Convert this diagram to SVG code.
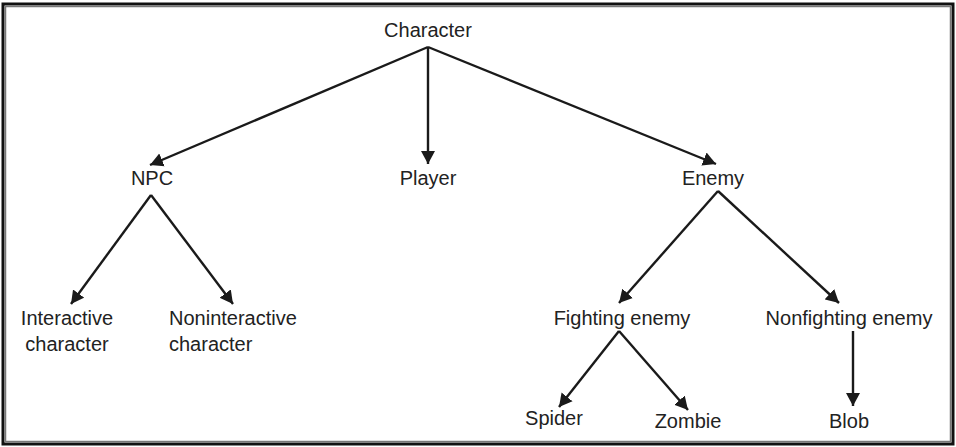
<svg xmlns="http://www.w3.org/2000/svg" width="956" height="447" viewBox="0 0 956 447">
<defs>
<marker id="ah" markerUnits="userSpaceOnUse" markerWidth="15" markerHeight="15" refX="13" refY="7.5" orient="auto">
<path d="M0,0.5 L13,7.5 L0,14.5 z" fill="#1a1a1a"/>
</marker>
<style>
text{font-family:"Liberation Sans",Arial,sans-serif;font-size:20px;fill:#222;text-anchor:middle}
.l{text-anchor:start}
.c line{stroke:#1a1a1a;stroke-width:2.4;marker-end:url(#ah)}
</style>
</defs>
<rect x="0" y="0" width="956" height="447" fill="#fff"/>
<rect x="3" y="4" width="950" height="440" fill="none" stroke="#111" stroke-width="3"/>
<rect x="5.5" y="6.5" width="945" height="435" fill="none" stroke="#777" stroke-width="1.5"/>
<g class="c" id="connectors">
<line x1="428" y1="47" x2="150" y2="165"/>
<line x1="428" y1="47" x2="428" y2="164"/>
<line x1="428" y1="47" x2="716" y2="164"/>
<line x1="151" y1="195" x2="71" y2="304"/>
<line x1="151" y1="195" x2="233" y2="304"/>
<line x1="718" y1="191" x2="619" y2="303"/>
<line x1="718" y1="191" x2="839" y2="303"/>
<line x1="619" y1="331" x2="559" y2="407"/>
<line x1="619" y1="331" x2="688" y2="410"/>
<line x1="853" y1="331" x2="853" y2="406"/>
</g>
<g id="character"><text x="428" y="37">Character</text></g>
<g id="npc"><text x="152" y="185">NPC</text></g>
<g id="player"><text x="428" y="185">Player</text></g>
<g id="enemy"><text x="713" y="185">Enemy</text></g>
<g id="interactive"><text x="67" y="325">Interactive</text><text x="67" y="351">character</text></g>
<g id="noninteractive"><text class="l" x="169" y="325">Noninteractive</text><text class="l" x="169" y="351">character</text></g>
<g id="fighting"><text x="622" y="325">Fighting enemy</text></g>
<g id="nonfighting"><text x="849" y="325">Nonfighting enemy</text></g>
<g id="spider"><text x="554" y="425">Spider</text></g>
<g id="zombie"><text x="688" y="428">Zombie</text></g>
<g id="blob"><text x="849" y="428">Blob</text></g>
</svg>
